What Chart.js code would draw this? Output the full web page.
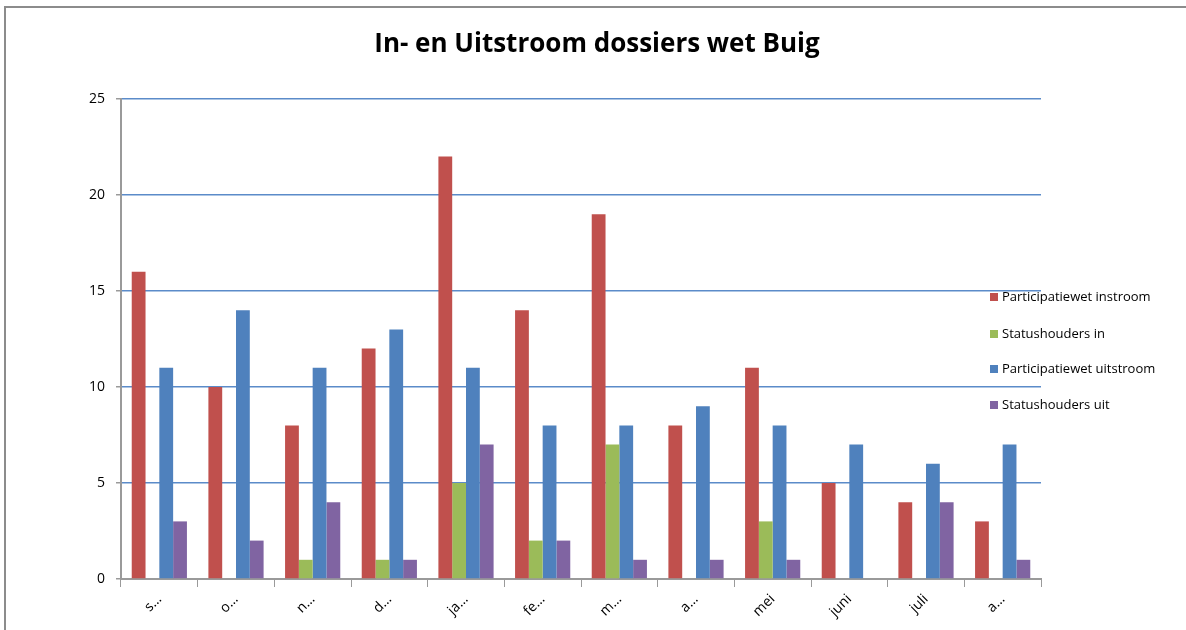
<!DOCTYPE html>
<html>
<head>
<meta charset="utf-8">
<script src="https://cdn.jsdelivr.net/npm/chart.js@4/dist/chart.umd.min.js"></script>
<style>
  body { margin: 0; background: #fff; }
  #wrap { position: absolute; left: 0; top: 0; width: 1186px; height: 630px; }
  #frame { position: absolute; left: 4px; top: 6px; width: 1190px; height: 640px;
           border-top: 2px solid #8c8c8c; border-left: 2px solid #8c8c8c; }
</style>
</head>
<body>
<div id="wrap">
  <canvas id="grafico" width="1186" height="630"></canvas>
  <div id="frame"></div>
</div>
<script>
const maanden = ["s…", "o…", "n…", "d…", "ja…", "fe…", "m…", "a…", "mei", "juni", "juli", "a…"]
const partIn = [16, 10, 8, 12, 22, 14, 19, 8, 11, 5, 4, 3]
const statusIn = [0, 0, 1, 1, 5, 2, 7, 0, 3, 0, 0, 0]
const partUit = [11, 14, 11, 13, 11, 8, 8, 9, 8, 7, 6, 7]
const statusUit = [3, 2, 4, 1, 7, 2, 1, 1, 1, 0, 4, 1]
const yTicks = [0, 5, 10, 15, 20, 25]
const titel = "In- en Uitstroom dossiers wet Buig"

const kleuren = ["#C0504D", "#9BBB59", "#4F81BD", "#8064A2"]
const fontNaam = "'Open Sans', 'DejaVu Sans', sans-serif"

// titel en legenda zelf tekenen, die staan in Excel los van het plotvlak
const legendaPlugin = {
    id: "legenda",
    afterDraw(chart) {
        const ctx = chart.ctx
        ctx.save()
        ctx.fillStyle = "#000"
        ctx.font = "bold 26px " + fontNaam
        ctx.textAlign = "center"
        ctx.textBaseline = "middle"
        ctx.fillText(titel, 597, 45)

        const ys = [297, 334, 369, 405]
        ctx.font = "13px " + fontNaam
        ctx.textAlign = "left"
        chart.data.datasets.forEach((ds, i) => {
            ctx.fillStyle = ds.backgroundColor
            ctx.fillRect(990, ys[i] - 4, 8, 8)
            ctx.fillStyle = "#000"
            ctx.fillText(ds.label, 1002, ys[i])
        })
        ctx.restore()
    }
}

const ctx = document.getElementById("grafico").getContext("2d")
const chart = new Chart(ctx, {
    type: "bar",
    data: {
        labels: maanden,
        datasets: [
            { label: "Participatiewet instroom", data: partIn, backgroundColor: kleuren[0] },
            { label: "Statushouders in", data: statusIn, backgroundColor: kleuren[1] },
            { label: "Participatiewet uitstroom", data: partUit, backgroundColor: kleuren[2] },
            { label: "Statushouders uit", data: statusUit, backgroundColor: kleuren[3] }
        ]
    },
    options: {
        responsive: false,
        animation: false,
        layout: { padding: { left: 0, right: 145, top: 99, bottom: 0 } },
        datasets: {
            bar: { categoryPercentage: 0.72, barPercentage: 1.0, borderWidth: 0 }
        },
        plugins: {
            legend: { display: false },
            tooltip: { enabled: false },
            title: { display: false }
        },
        scales: {
            x: {
                afterFit(axis) { axis.height = 51 },
                grid: {
                    display: true,
                    drawOnChartArea: false,
                    offset: true,
                    color: "#9a9a9a",
                    tickLength: 8
                },
                border: { color: "#9a9a9a", width: 2 },
                ticks: {
                    color: "#000",
                    font: { family: fontNaam, size: 14 },
                    maxRotation: 45,
                    minRotation: 45,
                    autoSkip: false,
                    padding: 4
                }
            },
            y: {
                min: 0,
                max: 25,
                afterFit(axis) { axis.width = 121 },
                afterBuildTicks(axis) {
                    axis.ticks = yTicks.map(v => ({ value: v }))
                },
                grid: {
                    color: "#5B8BC9",
                    lineWidth: 1.5,
                    tickLength: 5,
                    tickColor: "#9a9a9a"
                },
                border: { color: "#9a9a9a", width: 2 },
                ticks: {
                    color: "#000",
                    font: { family: fontNaam, size: 14 },
                    padding: 11
                }
            }
        }
    },
    plugins: [legendaPlugin]
})
</script>
</body>
</html>
